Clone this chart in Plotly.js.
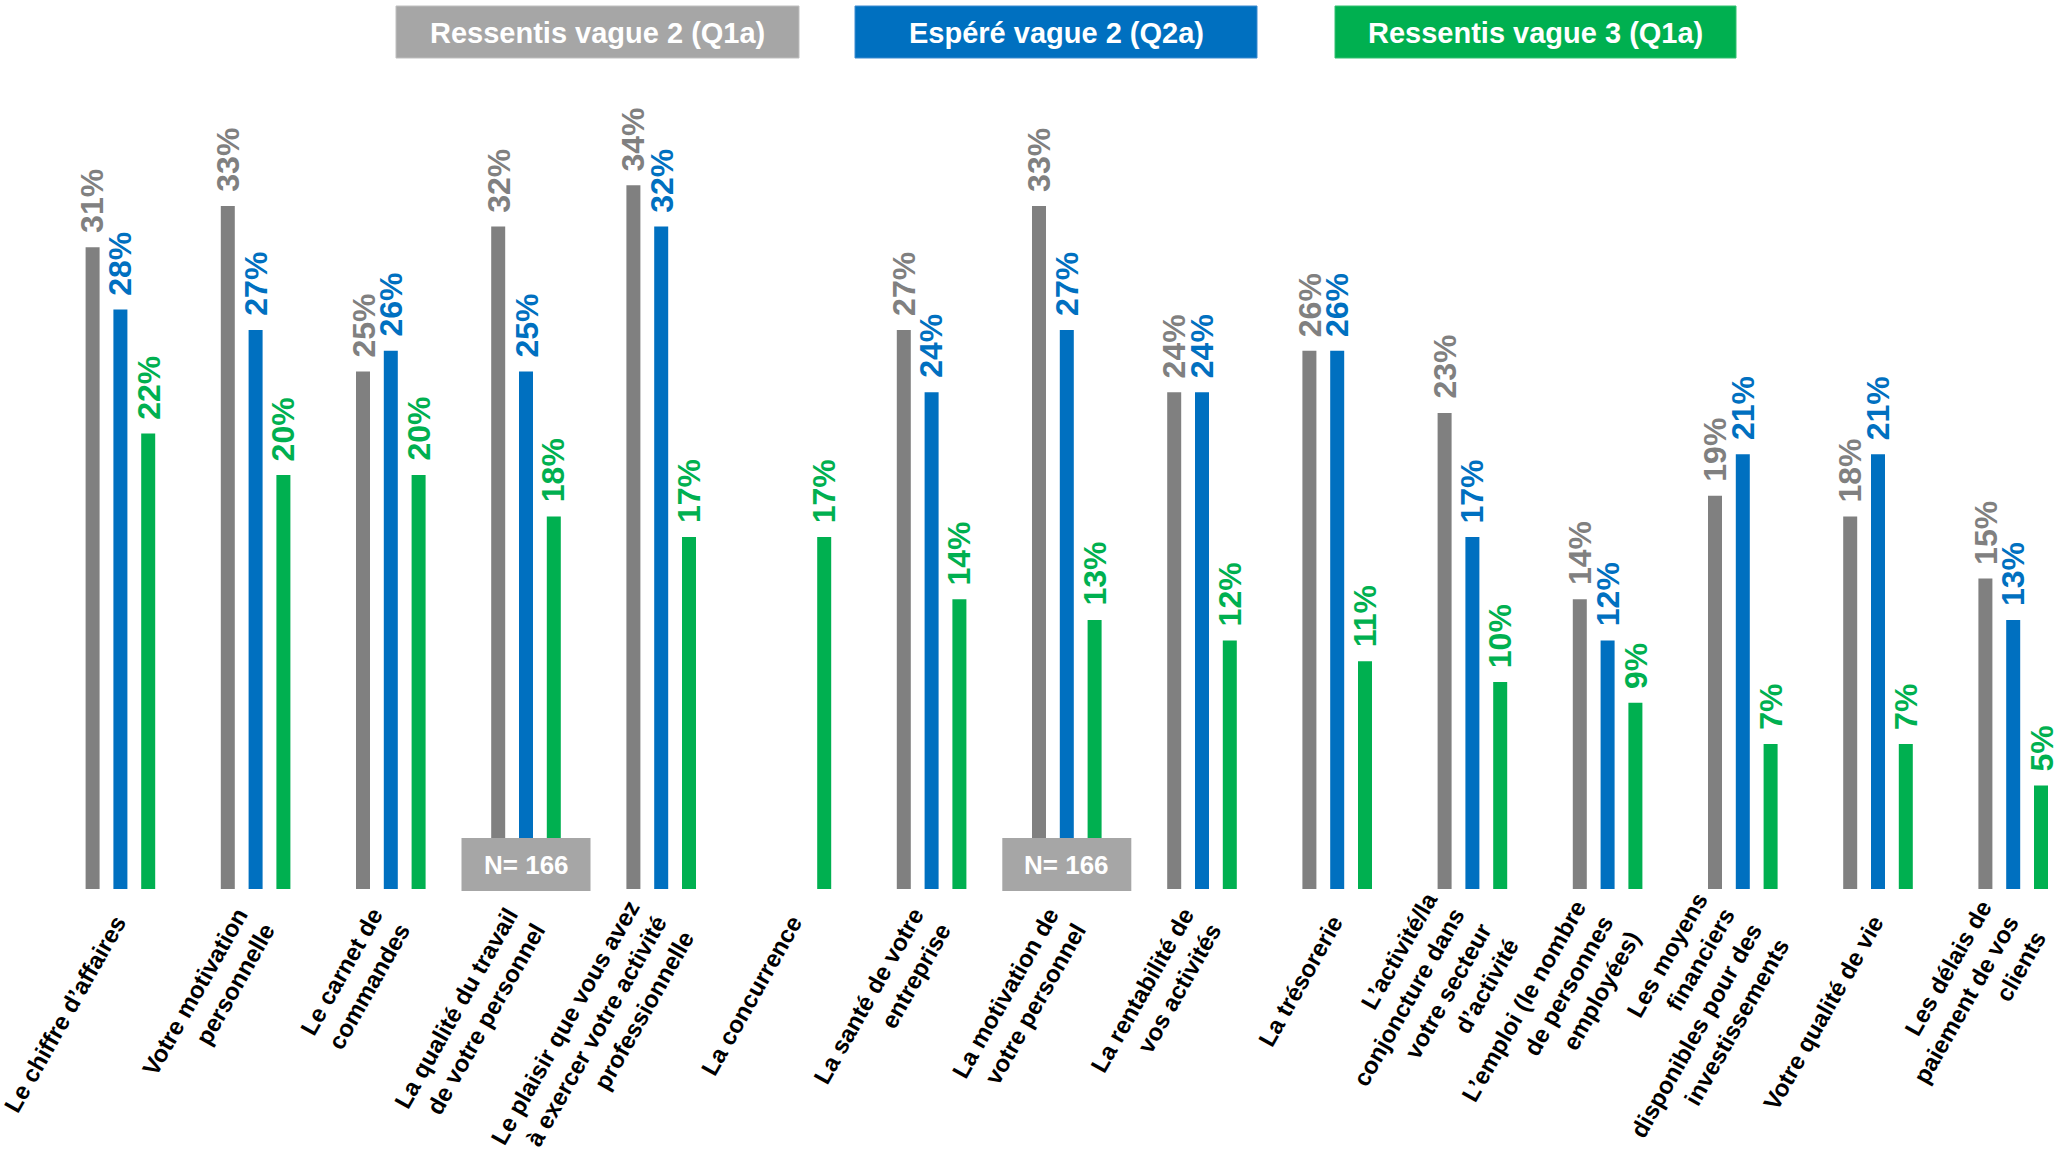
<!DOCTYPE html>
<html>
<head>
<meta charset="utf-8">
<script src="https://cdn.plot.ly/plotly-3.0.1.min.js"></script>
<style>
  html, body { margin: 0; padding: 0; background: #ffffff; }
  #chart { width: 2067px; height: 1150px; }
</style>
</head>
<body>
<div id="chart"></div>
<script>
// ---- Data ----
const categories = [
  "Le chiffre d’affaires",
  "Votre motivation<br>personnelle",
  "Le carnet de<br>commandes",
  "La qualité du travail<br>de votre personnel",
  "Le plaisir que vous avez<br>à exercer votre activité<br>professionnelle",
  "La concurrence",
  "La santé de votre<br>entreprise",
  "La motivation de<br>votre personnel",
  "La rentabilité de<br>vos activités",
  "La trésorerie",
  "L’activité/la<br>conjoncture dans<br>votre secteur<br>d’activité",
  "L’emploi (le nombre<br>de personnes<br>employées)",
  "Les moyens<br>financiers<br>disponibles pour des<br>investissements",
  "Votre qualité de vie",
  "Les délais de<br>paiement de vos<br>clients"
];
const seriesNames = ["Ressentis vague 2 (Q1a)", "Espéré vague 2 (Q2a)", "Ressentis vague 3 (Q1a)"];
const ressentisV2 = [31, 33, 25, 32, 34, null, 27, 33, 24, 26, 23, 14, 19, 18, 15];
const espereV2    = [28, 27, 26, 25, 32, null, 24, 27, 24, 26, 17, 12, 21, 21, 13];
const ressentisV3 = [22, 20, 20, 18, 17, 17, 14, 13, 12, 11, 10, 9, 7, 7, 5];
const sampleNote = "N= 166";
const sampleNoteCategories = [3, 7];

// ---- Styling ----
const colors = ["#808080", "#0070C0", "#00B050"];
const legendColors = ["#A6A6A6", "#0070C0", "#00B050"];
const FONT = "Arial, 'Liberation Sans', sans-serif";
const W = 2067, H = 1150;
const baseY = 889;          // pixel of value 0
const pxPerUnit = 20.7;     // pixel per percent
const catPitch = 135.2;     // pixel per category
const cat0 = 120.4;         // pixel of first category centre
const barPx = 14;
const slotPx = 27.8;

const marginB = H - baseY;
const plotH = baseY;
const yMax = plotH / pxPerUnit;
const xMin = -cat0 / catPitch;
const xMax = (W - cat0) / catPitch;
const barW = barPx / catPitch;
const slot = slotPx / catPitch;

const allSeries = [ressentisV2, espereV2, ressentisV3];
const idx = categories.map((c, i) => i);

const traces = allSeries.map((vals, s) => ({
  type: "bar",
  name: seriesNames[s],
  x: idx,
  y: vals,
  width: barW,
  offset: (s - 1) * slot - barW / 2,
  marker: { color: colors[s], line: { width: 0 } },
  hoverinfo: "skip",
  showlegend: false
}));

const annotations = [];
allSeries.forEach((vals, s) => {
  vals.forEach((v, i) => {
    if (v === null) return;
    annotations.push({
      x: i, y: v, xref: "x", yref: "y",
      text: v + "%",
      textangle: -90,
      showarrow: false,
      xanchor: "center", yanchor: "bottom",
      xshift: (s - 1) * slotPx,
      yshift: 12,
      font: { family: FONT, size: 32, color: colors[s], weight: "bold" }
    });
  });
});

const shapes = [];
// legend boxes
const legendBoxes = [[396, 799], [855, 1257], [1335, 1736]];
legendBoxes.forEach((b, s) => {
  shapes.push({
    type: "rect", xref: "paper", yref: "paper",
    x0: b[0] / W, x1: b[1] / W,
    y0: (baseY - 58) / plotH, y1: (baseY - 6) / plotH,
    fillcolor: legendColors[s], line: { width: 1, color: s === 0 ? "#BFBFBF" : (s === 1 ? "#3D8BD0" : "#33C070") },
    layer: "above"
  });
  annotations.push({
    xref: "paper", yref: "paper",
    x: (b[0] + b[1]) / 2 / W, y: (baseY - 33) / plotH,
    text: seriesNames[s], showarrow: false,
    xanchor: "center", yanchor: "middle",
    font: { family: FONT, size: 29, color: "#FFFFFF", weight: "bold" }
  });
});
// sample size boxes
sampleNoteCategories.forEach(ci => {
  shapes.push({
    type: "rect", xref: "x", yref: "paper",
    x0: ci - 64.5 / catPitch, x1: ci + 64.5 / catPitch,
    y0: -2 / plotH, y1: 51 / plotH,
    fillcolor: "#A6A6A6", line: { width: 0 },
    layer: "above"
  });
  annotations.push({
    xref: "x", yref: "paper",
    x: ci, y: 24.5 / plotH,
    text: sampleNote, showarrow: false,
    xanchor: "center", yanchor: "middle",
    font: { family: FONT, size: 26, color: "#FFFFFF", weight: "bold" }
  });
});

const layout = {
  width: W, height: H,
  margin: { l: 0, r: 0, t: 0, b: marginB, pad: 0 },
  paper_bgcolor: "#FFFFFF",
  plot_bgcolor: "#FFFFFF",
  barmode: "overlay",
  showlegend: false,
  xaxis: {
    range: [xMin, xMax],
    tickmode: "array",
    tickvals: idx,
    ticktext: categories,
    tickangle: -60.5,
    ticklabeloverflow: "allow",
    ticklabelstandoff: 14,
    ticklabelshift: -4,
    ticks: "",
    showline: false,
    showgrid: false,
    zeroline: false,
    tickfont: { family: FONT, size: 24, color: "#000000", weight: "bold" }
  },
  yaxis: {
    range: [0, yMax],
    showticklabels: false,
    showgrid: false,
    zeroline: false,
    showline: false,
    ticks: ""
  },
  shapes: shapes,
  annotations: annotations
};

Plotly.newPlot("chart", traces, layout, { staticPlot: true, displayModeBar: false });
</script>
</body>
</html>
